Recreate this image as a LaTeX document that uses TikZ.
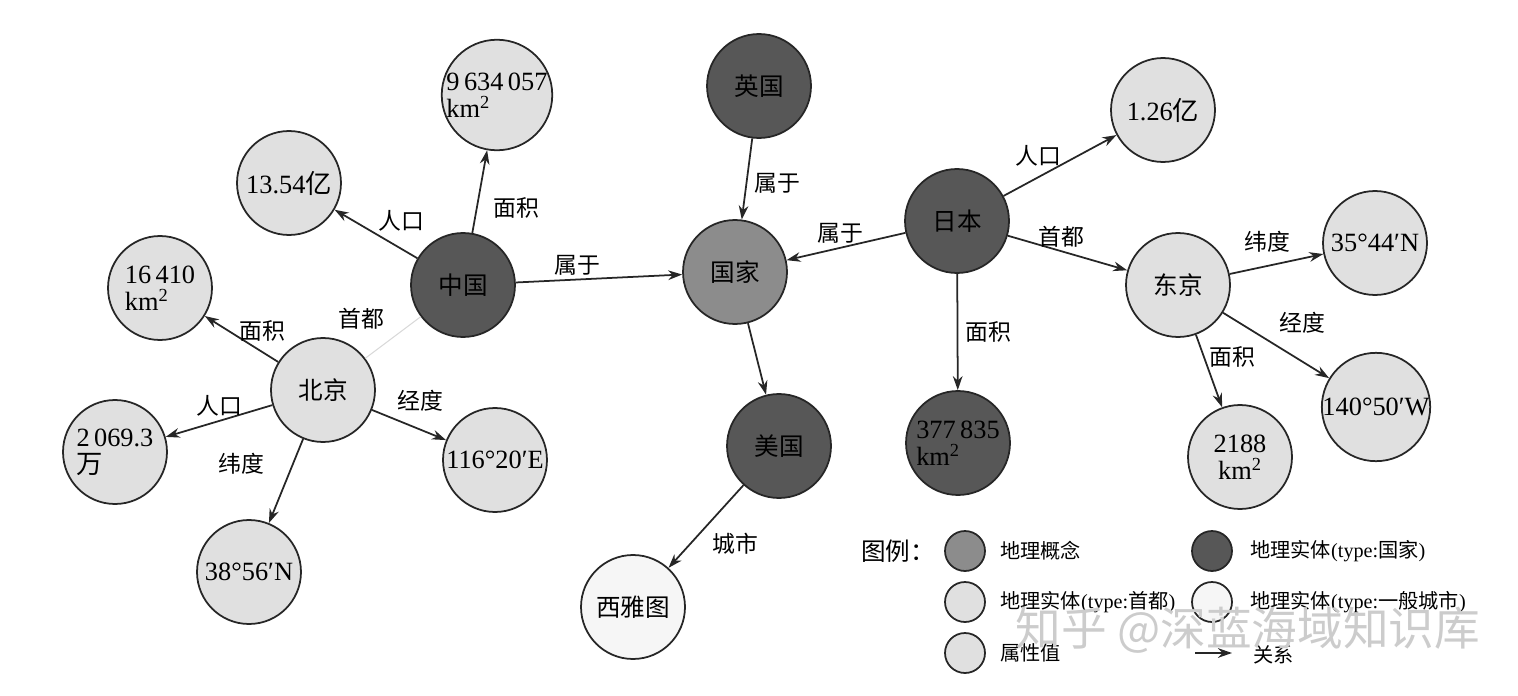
\documentclass[tikz,border=0pt]{standalone}
\usepackage{fontspec}
\setmainfont{Liberation Serif}
\newfontfamily\zh{Noto Sans CJK SC}
\usetikzlibrary{arrows.meta,positioning}

\definecolor{conceptgray}{gray}{0.55}
\definecolor{countrygray}{gray}{0.34}
\definecolor{capitalgray}{gray}{0.88}
\definecolor{citygray}{gray}{0.965}

\begin{document}
\begin{tikzpicture}[
        x=0.02cm, y=-0.02cm,
        >={Stealth[length=8pt,width=5.5pt]},
        entity/.style={
            circle,
            draw=black!85,
            line width=1pt,
            minimum size=2.08cm,
            inner sep=0pt,
            align=center,
            font=\zh\fontsize{14}{16}\selectfont
        },
        concept/.style={entity, fill=conceptgray},
        country/.style={entity, fill=countrygray},
        capital/.style={entity, fill=capitalgray},
        city/.style={entity, fill=citygray},
        value/.style={
            entity,
            fill=capitalgray,
            align=left,
            font=\fontsize{15}{15.5}\selectfont
        },
        darkvalue/.style={value, fill=countrygray},
        relation/.style={
            font=\zh\fontsize{13}{15}\selectfont,
            inner sep=1pt
        },
        arrow/.style={
            ->,
            draw=black!85,
            line width=1pt
        },
        faint/.style={
            draw=gray!30,
            line width=0.6pt
        },
        key/.style={
            circle,
            draw=black!85,
            line width=1pt,
            minimum size=0.8cm,
            inner sep=0pt
        },
        keytext/.style={
            font=\fontsize{11.5}{13}\selectfont,
            anchor=west,
            inner sep=0pt
        }
    ]
    \useasboundingbox (0,0) rectangle (1518,696);

    % 中国与北京
    \node[country] (zhongguo) at (463,285) {中国};
    \node[value] (zg-mj) at (497,95) {9\,634\,057\\km\textsuperscript{2}};
    \node[value] (zg-rk) at (289,183) {13.54{\zh 亿}};
    \node[capital] (beijing) at (323,390) {北京};
    \node[value] (bj-mj) at (160,288) {16\,410\\km\textsuperscript{2}};
    \node[value] (bj-rk) at (115,452) {2\,069.3\\{\zh 万}};
    \node[value] (bj-wd) at (249,572) {38°56′N};
    \node[value] (bj-jd) at (495,460) {116°20′E};

    \draw[arrow] (zhongguo) -- (zg-rk) node[relation,midway,above right=0pt] {人口};
    \draw[arrow] (zhongguo) -- (zg-mj) node[relation,pos=0.3,right=8pt] {面积};
    \draw[faint] (beijing) -- (zhongguo) node[relation,midway,above left=5pt] {首都};
    \draw[arrow] (beijing) -- (bj-mj) node[relation,midway,above right=-4pt] {面积};
    \draw[arrow] (beijing) -- (bj-rk) node[relation,midway,above=1pt] {人口};
    \draw[arrow] (beijing) -- (bj-wd) node[relation,pos=0.3,left=15pt] {纬度};
    \draw[arrow] (beijing) -- (bj-jd) node[relation,pos=0.65,above=9pt] {经度};

    % 国家
    \node[concept] (guojia) at (735,272) {国家};
    \node[country] (yingguo) at (759,86) {英国};
    \node[country] (meiguo) at (779,446) {美国};
    \node[city] (xiyatu) at (633,607) {西雅图};

    \draw[arrow] (zhongguo) -- (guojia) node[relation,pos=0.37,above=1pt] {属于};
    \draw[arrow] (yingguo) -- (guojia) node[relation,pos=0.55,right=3pt] {属于};
    \draw[arrow] (guojia) -- (meiguo);
    \draw[arrow] (meiguo) -- (xiyatu) node[relation,midway,below right=3pt] {城市};

    % 日本与东京
    \node[country] (riben) at (957,221) {日本};
    \node[value] (rb-rk) at (1163,110) {1.26{\zh 亿}};
    \node[darkvalue] (rb-mj) at (958,443) {377\,835\\km\textsuperscript{2}};
    \node[capital] (dongjing) at (1178,285) {东京};
    \node[value] (dj-wd) at (1375,243) {35°44′N};
    \node[value] (dj-jd) at (1376,407) {140°50′W};
    \node[value,align=center] (dj-mj) at (1240,457) {2188\\km\textsuperscript{2}};

    \draw[arrow] (riben) -- (guojia) node[relation,pos=0.55,above=1pt] {属于};
    \draw[arrow] (riben) -- (rb-rk) node[relation,midway,above left=-3pt] {人口};
    \draw[arrow] (riben) -- (dongjing) node[relation,pos=0.45,above=1pt] {首都};
    \draw[arrow] (riben) -- (rb-mj) node[relation,midway,right=3pt] {面积};
    \draw[arrow] (dongjing) -- (dj-wd) node[relation,pos=0.4,above=6pt] {纬度};
    \draw[arrow] (dongjing) -- (dj-jd) node[relation,pos=0.45,above right=5pt] {经度};
    \draw[arrow] (dongjing) -- (dj-mj) node[relation,pos=0.3,right=2pt] {面积};

    % 图例
    \node[font=\zh\fontsize{14}{16}\selectfont] (legend) at (898,551) {图例：};
    \node[key,fill=conceptgray] (key-concept) at (965,551) {};
    \node[key,fill=countrygray] (key-country) at (1212,551) {};
    \node[key,fill=capitalgray] (key-capital) at (965,602) {};
    \node[key,fill=citygray] (key-city) at (1212,602) {};
    \node[key,fill=capitalgray] (key-value) at (965,653) {};
    \node[keytext] (txt-concept) at (1000,551) {\zh 地理概念};
    \node[keytext] (txt-country) at (1250,551) {{\zh 地理实体}(type:{\zh 国家})};
    \node[keytext] (txt-capital) at (1000,602) {{\zh 地理实体}(type:{\zh 首都})};
    \node[keytext] (txt-city) at (1250,602) {{\zh 地理实体}(type:{\zh 一般城市})};
    \node[keytext] (txt-value) at (1000,653) {\zh 属性值};
    \coordinate (key-a) at (1195,653);
    \coordinate (key-b) at (1232,653);
    \draw[arrow] (key-a) -- (key-b);
    \node[keytext] (txt-relation) at (1253,655) {\zh 关系};

    % 水印
    \node[font=\zh\fontsize{26}{28}\selectfont, text=gray!40] (mark) at (1248,630) {知乎 @深蓝海域知识库};
\end{tikzpicture}
\end{document}
